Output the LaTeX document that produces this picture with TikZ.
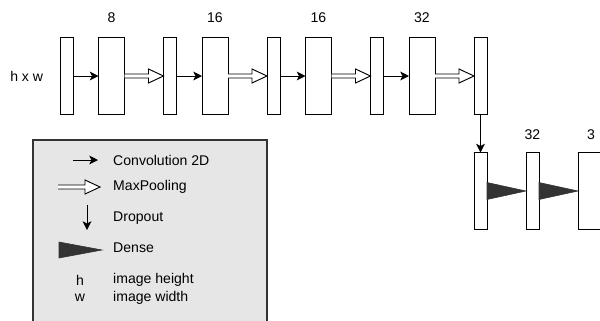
\documentclass[tikz,border=0pt]{standalone}
\usepackage{fontspec}
\setmainfont{Liberation Sans}
\usepackage{xcolor}
\usepackage{tikz}
\usetikzlibrary{calc,positioning,arrows.meta}
\definecolor{legendgray}{HTML}{E6E6E6}
\definecolor{densegray}{HTML}{333333}
\tikzstyle{thin layer} = [rectangle, draw=black, fill=white, line width=0.8pt, minimum width=0.39cm, minimum height=2.31cm, inner sep=0pt, outer sep=0pt]
\tikzstyle{wide layer} = [thin layer, minimum width=0.78cm]
\tikzstyle{caption} = [font=\fontsize{12}{14}\selectfont, inner sep=0pt]
\tikzstyle{conv} = [line width=0.8pt,-{Stealth[length=7.5pt,width=7.5pt,inset=2pt]}]
\tikzstyle{legend} = [draw=densegray, fill=legendgray, line width=1.2pt]
% hollow block arrow for max pooling
\newcommand{\poolarrow}[2]{%
  \draw[line width=0.8pt, fill=white, line join=miter]
    ($(#1)+(0,0.06)$) -- ($(#2)+(-0.45,0.06)$) -- ($(#2)+(-0.45,0.21)$) -- (#2)
    -- ($(#2)+(-0.45,-0.21)$) -- ($(#2)+(-0.45,-0.06)$) -- ($(#1)+(0,-0.06)$);}
% dark wedge for dense layers
\newcommand{\densearrow}[3]{%
  \filldraw[densegray, line width=0.5pt] ($(#1)+(0,#3)$) -- (#2) -- ($(#1)+(0,-#3)$) -- cycle;}

\begin{document}
\begin{tikzpicture}
	\path[use as bounding box, clip] (0,0) rectangle (18,-9.6);
	
	% legend
	\draw[legend] (0.99,-4.2) rectangle (8.01,-9.9);
	\coordinate (convA) at (2.19,-4.8);
	\coordinate (convB) at (2.94,-4.8);
	\coordinate (poolA) at (1.74,-5.61);
	\coordinate (poolB) at (3.0,-5.61);
	\coordinate (dropA) at (2.61,-6.15);
	\coordinate (dropB) at (2.61,-6.9);
	\coordinate (denseA) at (1.77,-7.5);
	\coordinate (denseB) at (3.06,-7.5);
	\draw[conv] (convA) -- (convB);
	\poolarrow{poolA}{poolB}
	\draw[conv] (dropA) -- (dropB);
	\densearrow{denseA}{denseB}{0.24}
	\node[caption, anchor=west] (convText) at (3.39,-4.8) {Convolution 2D};
	\node[caption, anchor=west] (poolText) at (3.39,-5.61) {MaxPooling};
	\node[caption, anchor=west] (dropText) at (3.39,-6.54) {Dropout};
	\node[caption, anchor=west] (denseText) at (3.39,-7.44) {Dense};
	\node[caption] (hKey) at (2.4,-8.4) {h};
	\node[caption] (wKey) at (2.4,-8.94) {w};
	\node[caption, anchor=west] (hText) at (3.39,-8.4) {image height};
	\node[caption, anchor=west] (wText) at (3.39,-8.94) {image width};
	
	% feature extraction
	\node[thin layer] (n1) at (1.995,-2.28) {};
	\node[wide layer, right=0.765cm of n1] (w1) {};
	\node[thin layer, right=1.17cm of w1] (n2) {};
	\node[wide layer, right=0.765cm of n2] (w2) {};
	\node[thin layer, right=1.17cm of w2] (n3) {};
	\node[wide layer, right=0.765cm of n3] (w3) {};
	\node[thin layer, right=1.17cm of w3] (n4) {};
	\node[wide layer, right=0.765cm of n4] (w4) {};
	\node[thin layer, right=1.17cm of w4] (n5) {};
	
	\node[caption, left=0.5cm of n1] (input) {h x w};
	\node[caption] (f1) at ($(w1.north)+(0,0.6)$) {8};
	\node[caption] (f2) at ($(w2.north)+(0,0.6)$) {16};
	\node[caption] (f3) at ($(w3.north)+(0,0.6)$) {16};
	\node[caption] (f4) at ($(w4.north)+(0,0.6)$) {32};
	
	\draw[conv] (n1) -- (w1);
	\draw[conv] (n2) -- (w2);
	\draw[conv] (n3) -- (w3);
	\draw[conv] (n4) -- (w4);
	\poolarrow{w1.east}{n2.west}
	\poolarrow{w2.east}{n3.west}
	\poolarrow{w3.east}{n4.west}
	\poolarrow{w4.east}{n5.west}
	
	% classifier
	\node[thin layer, below=1.14cm of n5] (d1) {};
	\node[thin layer, right=1.17cm of d1] (d2) {};
	\node[wide layer, right=1.17cm of d2] (d3) {};
	\node[caption] (f5) at ($(d2.north)+(0,0.54)$) {32};
	\node[caption] (f6) at ($(d3.north)+(0,0.54)$) {3};
	
	\draw[conv] (n5) -- (d1);
	\densearrow{d1.east}{d2.west}{0.255}
	\densearrow{d2.east}{d3.west}{0.255}
\end{tikzpicture}
\end{document}
